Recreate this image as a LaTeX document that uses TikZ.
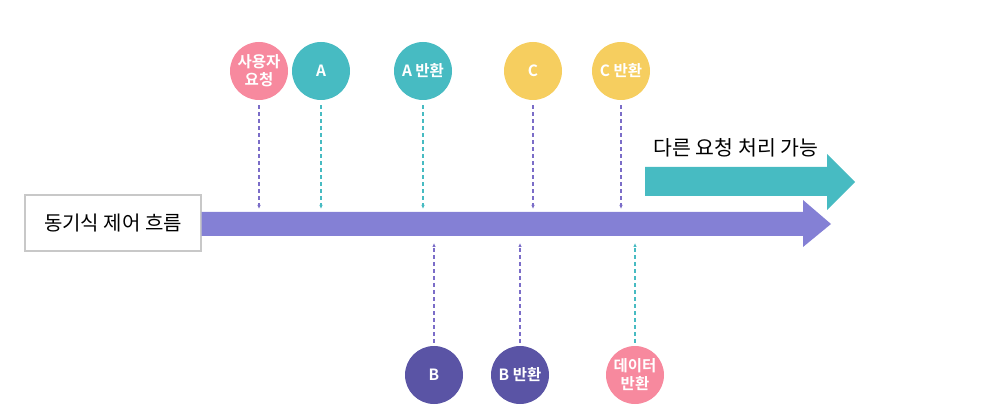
\documentclass[tikz,border=0pt]{standalone}
\usepackage{fontspec}
\setmainfont{Noto Sans CJK KR}
\newfontfamily\boldkr{Noto Sans CJK KR Bold}
\usetikzlibrary{arrows.meta,positioning}

\definecolor{pinkc}{HTML}{F7899E}
\definecolor{tealc}{HTML}{47BBC2}
\definecolor{yellowc}{HTML}{F6CE5F}
\definecolor{navyc}{HTML}{5A54A5}
\definecolor{flowc}{HTML}{8480D5}
\definecolor{dashp}{HTML}{7B6DC8}
\definecolor{boxline}{HTML}{C8C8C8}

\begin{document}
\begin{tikzpicture}[
    x=1pt, y=-1pt,
    event/.style={circle, fill=#1, minimum size=58pt, inner sep=0pt, align=center,
                  text=white, font=\boldkr\fontsize{15.5}{19}\selectfont},
    label box/.style={draw=boxline, line width=1.2pt, minimum width=176pt, minimum height=56pt,
                  font=\fontsize{20}{24}\selectfont},
    tick/.style={draw=#1, dashed, dash pattern=on 4pt off 3pt, line width=1.1pt,
                 -{Latex[length=4pt,width=3.5pt]}}
]
\useasboundingbox (0,0) rectangle (982,419);

% flow label and main arrow
\node[label box] (flow) at (113,223) {동기식 제어 흐름};
\fill[flowc] (flow.east |- 0,212) -- (803,212) -- (803,200) -- (831,224)
    -- (803,247) -- (803,236) -- (flow.east |- 0,236) -- cycle;

% second arrow
\fill[tealc] (645,167) -- (827,167) -- (827,154) -- (855,182)
    -- (827,210) -- (827,196) -- (645,196) -- cycle;
\node[font=\fontsize{20.5}{24}\selectfont] (other) at (736,148) {다른 요청 처리 가능};

% top events
\node[event=pinkc] (req) at (259,71) {사용자\\[-1pt]요청};
\node[event=tealc] (a) at (321,71) {A};
\node[event=tealc] (aret) at (423,71) {A 반환};
\node[event=yellowc] (c) at (533,71) {C};
\node[event=yellowc] (cret) at (621,71) {C 반환};

% bottom events
\node[event=navyc] (b) at (434,375) {B};
\node[event=navyc] (bret) at (520,375) {B 반환};
\node[event=pinkc] (data) at (635,375) {데이터\\[-1pt]반환};

\coordinate (req-end) at (259,209);
\coordinate (a-end) at (321,209);
\coordinate (aret-end) at (423,209);
\coordinate (c-end) at (533,209);
\coordinate (cret-end) at (621,209);
\coordinate (b-end) at (434,243);
\coordinate (bret-end) at (520,243);
\coordinate (data-end) at (635,243);

\draw[tick=dashp] ([yshift=-5pt]req.south) -- (req-end);
\draw[tick=tealc] ([yshift=-5pt]a.south) -- (a-end);
\draw[tick=tealc] ([yshift=-5pt]aret.south) -- (aret-end);
\draw[tick=dashp] ([yshift=-5pt]c.south) -- (c-end);
\draw[tick=dashp] ([yshift=-5pt]cret.south) -- (cret-end);
\draw[tick=dashp] ([yshift=3pt]b.north) -- (b-end);
\draw[tick=dashp] ([yshift=3pt]bret.north) -- (bret-end);
\draw[tick=tealc] ([yshift=3pt]data.north) -- (data-end);
\end{tikzpicture}
\end{document}
